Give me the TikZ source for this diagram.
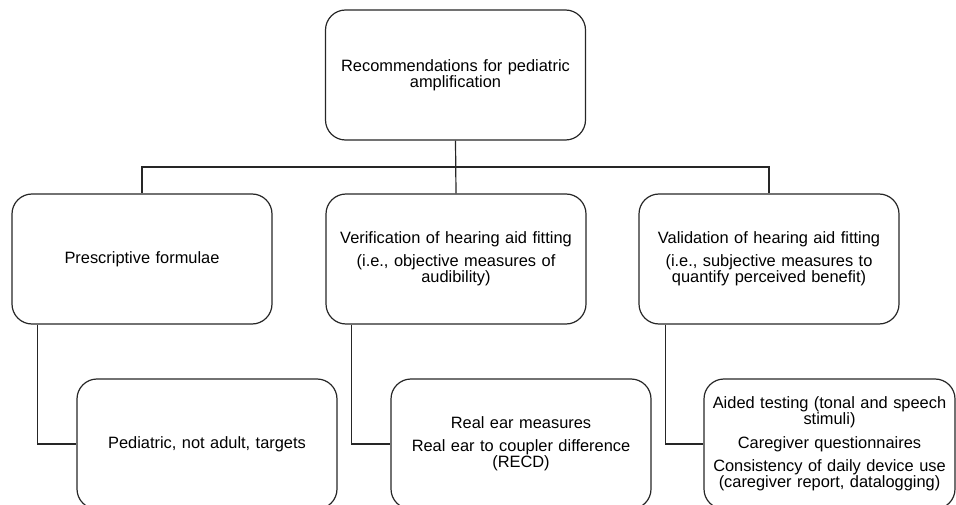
\documentclass[tikz,border=0pt]{standalone}
\usepackage{fontspec}
\setmainfont{Liberation Sans}
\usetikzlibrary{positioning}
\begin{document}
\begin{tikzpicture}[
  x=1pt, y=-1pt,
  box/.style={rectangle, draw=black!85, line width=1.2pt, rounded corners=20pt,
    minimum width=260pt, minimum height=130pt, text width=248pt, align=center,
    font=\fontsize{16.4}{16}\selectfont, inner sep=0pt},
  link/.style={draw=black!85, line width=1.2pt}
]
  \useasboundingbox (0,0) rectangle (956,505);
  \clip (0,0) rectangle (956,505);

  % Racine
  \node[box] (root) at (455.5,75) {Recommendations for pediatric\\amplification};

  % Niveau 2
  \node[box] (formula) at (142,259) {Prescriptive formulae};
  \node[box] (verif) at (456,259) {Verification of hearing aid fitting\\[7pt](i.e., objective measures of\\audibility)};
  \node[box] (valid) at (769,259) {Validation of hearing aid fitting\\[7pt](i.e., subjective measures to\\quantify perceived benefit)};

  % Niveau 3
  \node[box] (targets) at (207,444) {Pediatric, not adult, targets};
  \node[box] (rem) at (521,444) {Real ear measures\\[7pt]Real ear to coupler difference\\(RECD)};
  \node[box, minimum width=251pt] (aided) at (829.5,444) {Aided testing (tonal and speech\\stimuli)\\[8pt]Caregiver questionnaires\\[7pt]Consistency of daily device use\\(caregiver report, datalogging)};

  % Liens
  \coordinate (split) at (455.5,167);
  \draw[link] (root.south) -- (verif.north);
  \draw[link] (split) -| (formula.north);
  \draw[link] (split) -| (valid.north);
  \draw[link] ([xshift=26pt]formula.south west) |- (targets.west);
  \draw[link] ([xshift=26pt]verif.south west) |- (rem.west);
  \draw[link] ([xshift=27pt]valid.south west) |- (aided.west);
\end{tikzpicture}
\end{document}
